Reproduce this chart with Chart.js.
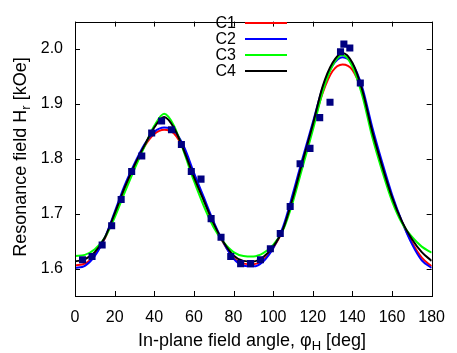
<!DOCTYPE html>
<html><head><meta charset="utf-8">
<script src="https://cdn.jsdelivr.net/npm/chart.js@4/dist/chart.umd.min.js"></script>
<style>html,body{margin:0;padding:0;background:#fff;}#wrap{width:457px;height:353px;position:relative;}</style>
</head><body><div id="wrap"><canvas id="c" width="457" height="353"></canvas></div>
<script>
// Fit curve sample angles (deg)
const angles = [0,5,10,15,20,25,30,35,40,45,50,55,60,65,70,75,80,85,90,95,100,105,110,115,120,125,130,135,140,145,150,155,160,165,170,175,180];
// Fit curves (kOe)
const c1 = [1.606,1.609,1.625,1.654,1.699,1.746,1.786,1.822,1.845,1.853,1.846,1.816,1.768,1.725,1.682,1.646,1.620,1.609,1.608,1.616,1.637,1.672,1.731,1.798,1.860,1.920,1.960,1.972,1.962,1.921,1.850,1.788,1.731,1.685,1.648,1.620,1.604];
const c2 = [1.601,1.605,1.623,1.656,1.703,1.751,1.791,1.826,1.849,1.857,1.851,1.822,1.775,1.730,1.685,1.647,1.618,1.605,1.604,1.613,1.637,1.676,1.737,1.803,1.866,1.930,1.970,1.985,1.973,1.930,1.858,1.794,1.735,1.686,1.645,1.615,1.601];
const c3 = [1.623,1.625,1.635,1.656,1.693,1.738,1.781,1.822,1.860,1.882,1.860,1.812,1.760,1.714,1.675,1.648,1.630,1.623,1.622,1.628,1.643,1.670,1.722,1.787,1.852,1.922,1.970,1.989,1.968,1.915,1.840,1.778,1.723,1.683,1.658,1.640,1.629];
const c4 = [1.613,1.617,1.630,1.656,1.700,1.747,1.788,1.824,1.857,1.876,1.856,1.815,1.767,1.724,1.682,1.648,1.624,1.614,1.613,1.621,1.640,1.672,1.730,1.797,1.862,1.932,1.975,1.993,1.975,1.925,1.850,1.787,1.730,1.686,1.654,1.630,1.614];
// Measured points
const measAngles = [3.8,8.6,13.7,18.5,23.3,28.6,33.7,38.7,43.7,48.7,53.7,58.7,63.6,68.7,73.7,78.6,83.6,88.6,93.6,98.6,103.6,108.6,113.6,118.6,123.5,128.7,134.0,135.7,138.7,144.0];
const measField = [1.616,1.622,1.643,1.678,1.726,1.777,1.805,1.847,1.869,1.853,1.826,1.777,1.763,1.691,1.657,1.622,1.609,1.609,1.616,1.636,1.664,1.713,1.791,1.819,1.875,1.903,1.995,2.009,2.002,1.938];
// Tick labels
const xTicks = [0,20,40,60,80,100,120,140,160,180];
const yTicks = [1.6,1.7,1.8,1.9,2.0];
const seriesNames = ['C1','C2','C3','C4'];
const seriesColors = ['#ff0000','#0000ff','#00ff00','#000000'];

const FONT = '"Liberation Sans", Arial, sans-serif';
const curves = [c1,c2,c3,c4];
const datasets = [{
  type:'scatter', label:'data', order:0,
  data: measAngles.map((a,i)=>({x:a,y:measField[i]})),
  pointStyle:'rect', pointRadius:5, pointHoverRadius:5,
  backgroundColor:'#000080', borderColor:'#000080', borderWidth:0
}];
curves.forEach((arr,k)=>{
  datasets.push({
    type:'line', label:seriesNames[k], order:4-k,
    data: angles.map((a,i)=>({x:a,y:arr[i]})),
    borderColor:seriesColors[k], borderWidth:2, pointRadius:0,
    cubicInterpolationMode:'monotone', fill:false
  });
});

const decor = {
  id:'decor',
  afterDraw(chart){
    const ctx = chart.ctx, a = chart.chartArea;
    const xs = chart.scales.x, ys = chart.scales.y;
    ctx.save();
    ctx.strokeStyle = '#000'; ctx.lineWidth = 1;
    ctx.strokeRect(Math.round(a.left)+0.5, Math.round(a.top)+0.5, Math.round(a.right-a.left), Math.round(a.bottom-a.top));
    const L = 5;
    ctx.beginPath();
    xTicks.forEach(v=>{
      const px = Math.round(xs.getPixelForValue(v))+0.5;
      ctx.moveTo(px, a.bottom); ctx.lineTo(px, a.bottom-L);
      ctx.moveTo(px, a.top); ctx.lineTo(px, a.top+L);
    });
    yTicks.forEach(v=>{
      const py = Math.round(ys.getPixelForValue(v))+0.5;
      ctx.moveTo(a.left, py); ctx.lineTo(a.left+L, py);
      ctx.moveTo(a.right, py); ctx.lineTo(a.right-L, py);
    });
    ctx.stroke();
    // legend
    ctx.font = '16px '+FONT; ctx.fillStyle = '#000';
    ctx.textAlign = 'right'; ctx.textBaseline = 'middle';
    seriesNames.forEach((n,i)=>{
      const y = 23 + i*16;
      ctx.fillText(n, 236, y+1);
      ctx.beginPath(); ctx.strokeStyle = seriesColors[i]; ctx.lineWidth = 2;
      ctx.moveTo(245, y); ctx.lineTo(287, y); ctx.stroke();
    });
    // x title
    ctx.fillStyle = '#000'; ctx.textBaseline = 'alphabetic'; ctx.textAlign = 'left';
    const f1 = '18px '+FONT, f2 = '13px '+FONT;
    const p1 = 'In-plane field angle, ', p2 = 'φ', sub = 'H', p3 = ' [deg]';
    ctx.font = f1; const w1 = ctx.measureText(p1).width, w2 = ctx.measureText(p2).width, w4 = ctx.measureText(p3).width;
    ctx.font = f2; const w3 = ctx.measureText(sub).width;
    let x0 = 252 - (w1+w2+w3+w4)/2;
    const yb = 346;
    ctx.font = f1; ctx.fillText(p1, x0, yb); ctx.fillText(p2, x0+w1, yb);
    ctx.font = f2; ctx.fillText(sub, x0+w1+w2, yb+4);
    ctx.font = f1; ctx.fillText(p3, x0+w1+w2+w3, yb);
    // y title
    ctx.save();
    ctx.translate(26, 157);
    ctx.rotate(-Math.PI/2);
    const q1 = 'Resonance field H', qs = 'r', q3 = ' [kOe]';
    ctx.font = f1; const v1 = ctx.measureText(q1).width, v3 = ctx.measureText(q3).width;
    ctx.font = f2; const v2 = ctx.measureText(qs).width;
    let s0 = -(v1+v2+v3)/2;
    ctx.font = f1; ctx.fillText(q1, s0, 0);
    ctx.font = f2; ctx.fillText(qs, s0+v1, 4);
    ctx.font = f1; ctx.fillText(q3, s0+v1+v2, 0);
    ctx.restore();
    ctx.restore();
  }
};

new Chart(document.getElementById('c'), {
  data:{datasets},
  options:{
    responsive:false, animation:false, devicePixelRatio:1,
    layout:{padding:{top:11,right:21,left:0,bottom:0}},
    plugins:{legend:{display:false}, tooltip:{enabled:false}},
    scales:{
      x:{type:'linear', min:0, max:180,
        afterBuildTicks(s){ s.ticks = xTicks.map(v=>({value:v})); },
        afterFit(s){ s.height = 57; },
        grid:{display:false, drawTicks:false}, border:{display:false},
        ticks:{font:{size:16, family:FONT}, color:'#000', padding:12, maxRotation:0, autoSkip:false}
      },
      y:{type:'linear', min:1.55, max:2.05,
        afterBuildTicks(s){ s.ticks = yTicks.map(v=>({value:v})); },
        afterFit(s){ s.width = 75; },
        grid:{display:false, drawTicks:false}, border:{display:false},
        ticks:{font:{size:16, family:FONT}, color:'#000', padding:12, autoSkip:false,
          callback:(v)=>Number(v).toFixed(1)}
      }
    }
  },
  plugins:[decor]
});
</script></body></html>
